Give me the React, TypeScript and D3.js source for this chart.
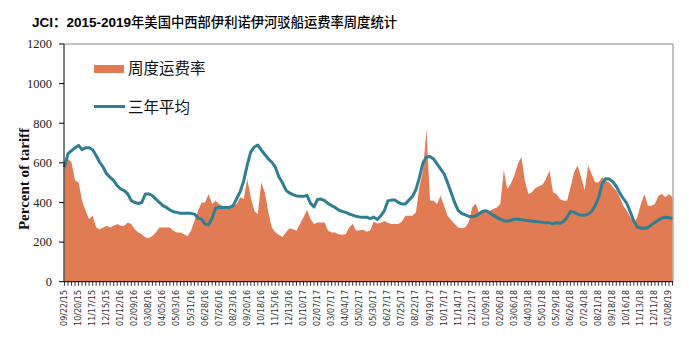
import React from "react";
import * as d3 from "d3";

const tickLabels = [
  "09/22/15","10/20/15","11/17/15","12/15/15","01/12/16","02/09/16","03/08/16","04/05/16",
  "05/03/16","05/31/16","06/28/16","07/26/16","08/23/16","09/20/16","10/18/16","11/15/16",
  "12/13/16","01/10/17","02/07/17","03/07/17","04/04/17","05/02/17","05/30/17","06/27/17",
  "07/25/17","08/22/17","09/19/17","10/17/17","11/14/17","12/12/17","01/09/18","02/06/18",
  "03/06/18","04/03/18","05/01/18","05/29/18","06/26/18","07/24/18","08/21/18","09/18/18",
  "10/16/18","11/13/18","12/11/18","01/08/19"
];

const weeklyRate = [
  595,620,603,510,502,409,358,316,333,274,
  265,274,282,274,282,291,282,282,299,291,
  265,248,240,223,220,231,248,274,274,274,
  274,257,248,248,240,231,257,308,358,400,
  400,443,392,409,392,384,375,375,384,392,
  426,417,519,426,358,341,502,450,350,
  274,248,237,226,248,270,265,257,291,325,
  363,316,291,299,299,299,257,248,248,240,
  237,240,274,291,257,260,262,252,260,304,
  294,297,306,296,291,291,291,304,333,333,
  333,350,480,560,770,410,409,392,434,384,
  333,311,291,274,270,274,299,
  375,395,345,350,358,358,367,375,392,561,
  468,494,536,595,629,510,443,451,473,482,
  490,519,561,451,443,417,409,409,477,553,
  586,527,460,586,544,502,502,527,510,502,
  477,460,426,384,358,325,299,325,392,443,
  384,384,392,434,443,426,443,426
];

const threeYearAvg = [
  578,646,662,676,688,666,676,676,666,637,
  603,578,544,527,510,485,468,460,443,409,
  400,395,400,443,443,434,417,400,384,375,
  362,353,350,345,345,345,345,341,321,316,
  291,287,320,372,375,375,375,375,384,420,
  455,510,590,655,680,690,665,642,620,
  603,578,530,500,462,448,440,433,431,431,
  436,395,378,415,417,409,395,384,375,362,
  355,350,342,336,330,326,325,326,318,326,
  314,333,358,408,412,412,400,392,392,412,
  430,465,527,600,630,632,620,595,570,545,
  500,450,400,360,345,338,330,
  328,332,343,356,358,348,335,325,316,308,
  305,310,315,315,313,310,308,306,304,302,
  300,297,297,292,298,295,304,325,355,350,
  341,336,336,341,355,385,425,495,520,518,
  505,482,447,420,395,352,305,277,270,270,
  274,287,299,311,322,325,323,320
];

const yTicks = [0, 200, 400, 600, 800, 1000, 1200];
const seriesNames = ["周度运费率", "三年平均"];

const W = 689, H = 360;
const plotL = 64, plotR = 673, plotT = 44, plotB = 281.7;
const orange = "#E07B54";
const teal = "#2E7F92";

export default function App() {
  const n = weeklyRate.length;
  const idx = d3.range(n);
  const x = d3.scalePoint<number>().domain(idx).range([plotL + 0.5, plotR - 0.5]);
  const y = d3.scaleLinear().domain([0, 1200]).range([plotB, plotT]);

  const area = d3.area<number>()
    .x((d, i) => x(i) as number)
    .y0(y(0))
    .y1((d) => y(d));
  const line = d3.line<number>()
    .x((d, i) => x(i) as number)
    .y((d) => y(d));

  return (
    <svg width={W} height={H} style={{ position: "absolute", left: 0, top: 0, display: "block", background: "#fff" }}>
      <text x={32} y={27} fontSize={13.5}>
        <tspan fontFamily="Liberation Sans, Arial, sans-serif" fontWeight="bold">JCI</tspan>
        <tspan fontFamily="Noto Sans CJK SC" fontWeight="bold">：</tspan>
        <tspan fontFamily="Liberation Sans, Arial, sans-serif" fontWeight="bold">2015-2019</tspan>
        <tspan fontFamily="Noto Sans CJK SC" fontSize={13.3} fontWeight={500}>年美国中西部伊利诺伊河驳船运费率周度统计</tspan>
      </text>

      {/* frame */}
      <line x1={plotL} x2={plotR} y1={plotT} y2={plotT} stroke="#8a8a8a" strokeWidth={1} />
      <line x1={plotR} x2={plotR} y1={plotT} y2={plotB} stroke="#8a8a8a" strokeWidth={1} />

      <path d={area(weeklyRate) || ""} fill={orange} />
      <path d={line(threeYearAvg) || ""} fill="none" stroke={teal} strokeWidth={3} strokeLinejoin="round" />

      {/* y axis */}
      <line x1={plotL} x2={plotL} y1={plotT} y2={plotB} stroke="#000" strokeWidth={1} />
      {yTicks.map((t) => (
        <g key={t}>
          <line x1={plotL - 5} x2={plotL} y1={y(t)} y2={y(t)} stroke="#000" />
          <text x={52} y={y(t)} dy="0.35em" textAnchor="end" fontFamily="Liberation Serif, Times New Roman, serif" fontSize={12.5} fill="#222">{t}</text>
        </g>
      ))}
      <text transform={`translate(29,179) rotate(-90)`} textAnchor="middle" fontFamily="Liberation Serif, Times New Roman, serif" fontWeight="bold" fontSize={15} fill="#111">Percent of tariff</text>

      {/* x axis */}
      <line x1={plotL} x2={plotR} y1={plotB} y2={plotB} stroke="#000" strokeWidth={1} />
      {idx.map((i) => (
        <line key={i} x1={x(i)} x2={x(i)} y1={plotB} y2={plotB + 4} stroke="#000" strokeWidth={0.8} />
      ))}
      {tickLabels.map((lab, j) => (
        <text key={lab} transform={`translate(${x(j * 4)},290) rotate(-90)`} textAnchor="end" dominantBaseline="central" fontFamily="DejaVu Sans, sans-serif" fontSize={8} fill="#333">{lab}</text>
      ))}

      {/* legend */}
      <rect x={94} y={65} width={30} height={8} fill={orange} />
      <text x={128} y={74} fontFamily="Noto Sans CJK SC" fontSize={15.5} fill="#111">{seriesNames[0]}</text>
      <line x1={94} x2={125} y1={106.5} y2={106.5} stroke={teal} strokeWidth={3} />
      <text x={128} y={112.5} fontFamily="Noto Sans CJK SC" fontSize={15.5} fill="#111">{seriesNames[1]}</text>
    </svg>
  );
}
